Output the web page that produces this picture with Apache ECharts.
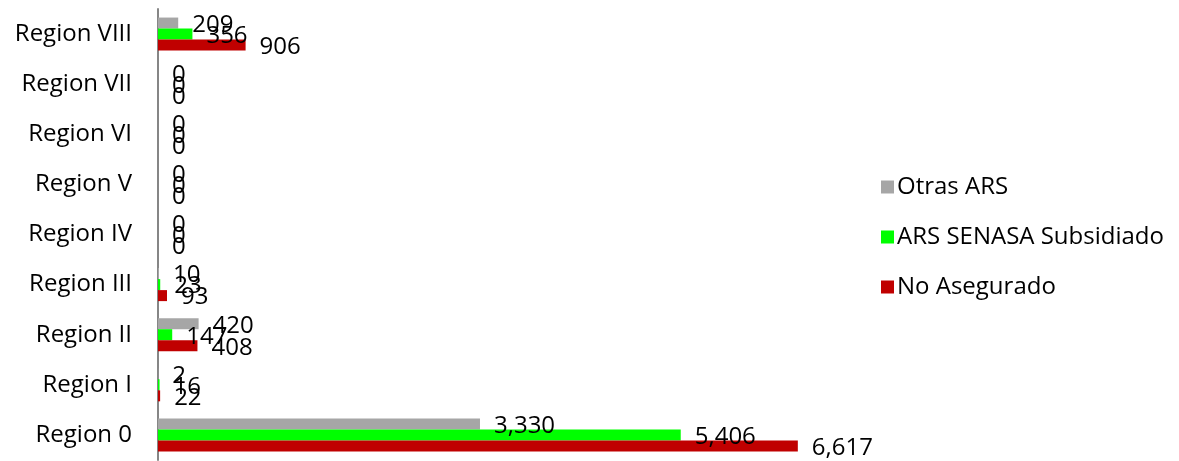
<!DOCTYPE html>
<html><head><meta charset="utf-8">
<script src="https://cdn.jsdelivr.net/npm/echarts@6/dist/echarts.min.js"></script>
<style>html,body{margin:0;padding:0;background:#fff}#c{width:1179px;height:461px}</style>
</head><body><div id="c"></div>
<script>
const categories = ['Region 0','Region I','Region II','Region III','Region IV','Region V','Region VI','Region VII','Region VIII'];
const otras = [3330, 2, 420, 10, 0, 0, 0, 0, 209];
const senasa = [5406, 16, 147, 23, 0, 0, 0, 0, 356];
const noAsegurado = [6617, 22, 408, 93, 0, 0, 0, 0, 906];
const seriesNames = ['Otras ARS','ARS SENASA Subsidiado','No Asegurado'];
const colors = ['#A6A6A6','#00FF00','#C00000'];
const font = 'Open Sans';
const chart = echarts.init(document.getElementById('c'));
const lbl = {show:true, position:'right', distance:14, color:'#000', fontFamily:font, fontSize:24,
  offset:[0,2], formatter: p => p.value.toLocaleString('en-US')};
chart.setOption({
  animation:false,
  grid:{left:158, top:9, width:702, height:451, containLabel:false},
  xAxis:{type:'value', min:0, max:7260, show:false},
  yAxis:{type:'category', data:categories,
    axisLine:{show:true, lineStyle:{color:'#868686', width:2}},
    axisTick:{show:false},
    axisLabel:{color:'#000', fontFamily:font, fontSize:24, margin:26}},
  legend:{orient:'vertical', left:876, top:170, itemWidth:13, itemHeight:13, itemGap:26,
    icon:'rect', data:seriesNames,
    textStyle:{color:'#000', fontFamily:font, fontSize:24, padding:[0,0,0,-2]}},
  series:[otras, senasa, noAsegurado].map((d,i)=>({
    name:seriesNames[i], type:'bar', data:d, barWidth:11, barGap:'0%',
    itemStyle:{color:colors[i]}, label:lbl
  }))
});
</script></body></html>
